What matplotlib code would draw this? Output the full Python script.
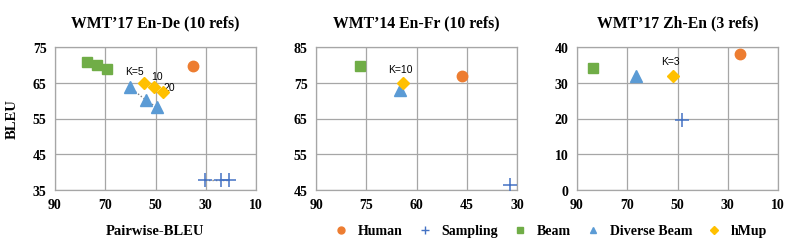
import matplotlib.pyplot as plt
from matplotlib.lines import Line2D

# panel titles and axis ranges
titles = ["WMT\u201917 En-De (10 refs)", "WMT\u201914 En-Fr (10 refs)", "WMT\u201917 Zh-En (3 refs)"]
x_ticks = [[90, 70, 50, 30, 10], [90, 75, 60, 45, 30], [90, 70, 50, 30, 10]]
y_ticks = [[35, 45, 55, 65, 75], [45, 55, 65, 75, 85], [0, 10, 20, 30, 40]]

# (pairwise-BLEU, BLEU) per method and panel
human_x = [[35.2], [46.4], [25.3]]
human_y = [[69.7], [76.9], [38.0]]
sampling_x = [[30.1, 24.1, 20.9], [32.0], [48.3]]
sampling_y = [[37.8, 37.8, 37.8], [46.4], [19.5]]
beam_x = [[77.1, 73.2, 69.2], [77.0], [83.6]]
beam_y = [[70.8, 69.9, 68.8], [79.7], [34.0]]
diverse_x = [[60.2, 53.9, 49.5], [64.9], [66.6]]
diverse_y = [[63.7, 60.2, 58.1], [73.0], [31.9]]
hmup_x = [[54.5, 50.5, 47.2], [64.1], [51.7]]
hmup_y = [[65.0, 63.8, 62.3], [74.8], [31.9]]
hmup_labels = [["K=5", "10", "20"], ["K=10"], ["K=3"]]

C_HUMAN = "#ED7D31"
C_SAMP = "#4472C4"
C_BEAM = "#70AD47"
C_DIV = "#5B9BD5"
C_HMUP = "#FFC000"

SERIF = "Liberation Serif"
SANS = "Liberation Sans"

fig = plt.figure(figsize=(7.89, 2.51), dpi=100)
lefts = [55 / 789, 316 / 789, 577 / 789]
axes = [fig.add_axes([l, 1 - 191 / 251, 201 / 789, 143 / 251]) for l in lefts]

label_offsets = [[(-7, 5), (2, 4), (5, 0)], [(-2, 7)], [(-2, 7)]]
DOT = (0, (1, 1.5))

for i, ax in enumerate(axes):
  xt, yt = x_ticks[i], y_ticks[i]
  ax.set_xlim(xt[0], xt[-1])
  ax.set_ylim(yt[0], yt[-1])
  ax.set_xticks(xt)
  ax.set_yticks(yt)
  ax.grid(True, color="#a6a6a6", linewidth=0.9)
  ax.set_axisbelow(True)
  ax.tick_params(length=0, pad=6)
  for lab in ax.get_xticklabels() + ax.get_yticklabels():
    lab.set_fontfamily(SERIF)
    lab.set_fontweight("bold")
    lab.set_fontsize(10)
  for s in ax.spines.values():
    s.set_color("#a6a6a6")
    s.set_linewidth(0.9)
  ax.set_title(titles[i], fontfamily=SERIF, fontweight="bold", fontsize=11.3, pad=15)

  # dotted connectors between settings of the same method
  if len(sampling_x[i]) > 1:
    ax.plot(sampling_x[i], sampling_y[i], color="#7f7f7f", linestyle=DOT, linewidth=1, zorder=2)
  if len(diverse_x[i]) > 1:
    ax.plot(diverse_x[i], diverse_y[i], color="#7f7f7f", linestyle=DOT, linewidth=1, zorder=2)

  ax.plot(human_x[i], human_y[i], "o", color=C_HUMAN, markersize=7.5, linestyle="none", zorder=3)
  ax.plot(sampling_x[i], sampling_y[i], "+", color=C_SAMP, markersize=10, markeredgewidth=1.1,
          linestyle="none", zorder=3)
  ax.plot(beam_x[i], beam_y[i], "s", color=C_BEAM, markersize=6.5, linestyle="none", zorder=3)
  ax.plot(diverse_x[i], diverse_y[i], "^", color=C_DIV, markersize=8, linestyle="none", zorder=3)
  ax.plot(hmup_x[i], hmup_y[i], "D", color=C_HMUP, markersize=6, linestyle="none", zorder=4)
  for j, txt in enumerate(hmup_labels[i]):
    ax.annotate(txt, (hmup_x[i][j], hmup_y[i][j]), xytext=label_offsets[i][j],
                textcoords="offset points", fontfamily=SANS, fontsize=7.5, ha="center", va="bottom")

fig.text(155 / 789, 1 - 232 / 251, "Pairwise-BLEU", fontfamily=SERIF, fontweight="bold",
         fontsize=10.5, ha="center", va="center")
fig.text(12 / 789, 1 - 119 / 251, "BLEU", fontfamily=SERIF, fontweight="bold",
         fontsize=10.5, ha="center", va="center", rotation=90)

handles = [
  Line2D([], [], marker="o", color=C_HUMAN, linestyle="none", markersize=5),
  Line2D([], [], marker="+", color=C_SAMP, linestyle="none", markersize=6),
  Line2D([], [], marker="s", color=C_BEAM, linestyle="none", markersize=4.5),
  Line2D([], [], marker="^", color=C_DIV, linestyle="none", markersize=5),
  Line2D([], [], marker="D", color=C_HMUP, linestyle="none", markersize=4.5),
]
names = ["Human", "Sampling", "Beam", "Diverse Beam", "hMup"]
fig.legend(handles, names, loc="center", bbox_to_anchor=(550 / 789, 1 - 232 / 251), ncol=5,
           frameon=False, prop={"family": SERIF, "weight": "bold", "size": 10},
           handletextpad=0.6, columnspacing=1.0, handlelength=1.2)

fig.savefig("out.png", dpi=100)
